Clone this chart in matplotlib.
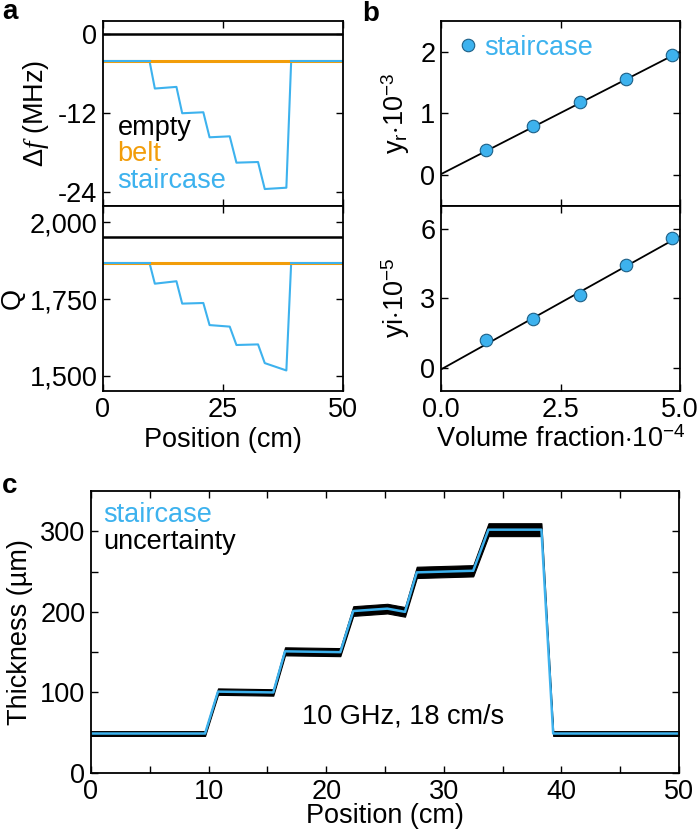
import matplotlib
matplotlib.use("Agg")
import matplotlib.pyplot as plt

plt.rcParams["font.family"] = ["Liberation Sans", "DejaVu Sans"]
plt.rcParams["font.size"] = 19.5
plt.rcParams["mathtext.fontset"] = "custom"
plt.rcParams["mathtext.rm"] = "Liberation Sans"
plt.rcParams["mathtext.it"] = "Liberation Serif:italic"
plt.rcParams["axes.linewidth"] = 1.3
plt.rcParams["axes.unicode_minus"] = False

BLUE = "#3DB2EE"
ORANGE = "#F29D0A"

# --- panel a: frequency shift and Q along the belt ---
pos_flat = [0, 50]
df_empty = [0.0, 0.0]
df_belt = [-4.1, -4.1]
q_empty = [1953, 1953]
q_belt = [1869, 1869]

pos_stair_a = [0, 9.7, 10.8, 15.3, 16.5, 20.9, 22.2, 26.4, 27.8, 32.3, 33.7, 38.2, 39.2, 50]
df_stair = [-4.1, -4.1, -8.25, -8.0, -12.0, -11.85, -15.65, -15.5, -19.5, -19.4, -23.5, -23.3, -4.1, -4.1]
q_stair = [1867, 1867, 1800, 1808, 1735, 1737, 1665, 1660, 1600, 1602, 1541, 1517, 1867, 1867]

# --- panel b: permittivity vs volume fraction ---
vol_frac = [0.95, 1.93, 2.90, 3.87, 4.84]
y_r = [0.40, 0.79, 1.18, 1.56, 1.95]
y_i = [1.20, 2.10, 3.15, 4.45, 5.60]
fit_x = [0.0, 5.0]
fit_yr = [0.01, 2.0]
fit_yi = [-0.07, 5.68]

# --- panel c: reconstructed thickness ---
pos_stair_c = [0, 9.7, 10.8, 15.5, 16.5, 21.2, 22.3, 25.2, 26.7, 27.7, 32.5, 33.8, 38.3, 39.3, 50]
thickness = [49, 49, 101, 100, 151, 150, 201, 204, 200, 249, 251, 302, 302, 49, 49]
uncert = [3, 3, 4, 4, 5, 5, 6, 6, 6, 7, 7, 8, 8, 3, 3]

fig = plt.figure(figsize=(7.0, 8.39), dpi=100)
W, H = 700.0, 839.0


def axes_px(x0, y0, x1, y1):
    return fig.add_axes([x0 / W, 1 - y1 / H, (x1 - x0) / W, (y1 - y0) / H])


def style(ax):
    ax.tick_params(direction="in", length=5, width=1.0, top=True, right=True, pad=4)


# panel a top
ax1 = axes_px(103, 21, 343, 205.5)
ax1.plot(pos_flat, df_empty, color="black", lw=1.8)
ax1.plot(pos_stair_a, df_stair, color=BLUE, lw=1.5)
ax1.plot(pos_flat, df_belt, color=ORANGE, lw=2.2)
ax1.plot([0, 9.7], df_stair[:2], color=BLUE, lw=1.5)
ax1.plot([39.2, 50], df_stair[-2:], color=BLUE, lw=1.5)
ax1.set_xlim(0, 50)
ax1.set_ylim(-26, 2)
ax1.set_yticks([-24, -12, 0])
ax1.set_xticks([0, 25, 50])
ax1.set_xticklabels([])
ax1.set_ylabel(r"$\mathit{\Delta f}$ (MHz)", labelpad=5)
style(ax1)
ax1.text(0.06, 0.42, "empty", color="black", transform=ax1.transAxes, va="center")
ax1.text(0.06, 0.28, "belt", color=ORANGE, transform=ax1.transAxes, va="center")
ax1.text(0.06, 0.135, "staircase", color=BLUE, transform=ax1.transAxes, va="center")

# panel a bottom
ax2 = axes_px(103, 205.5, 343, 391)
ax2.plot(pos_flat, q_empty, color="black", lw=1.8)
ax2.plot(pos_stair_a, q_stair, color=BLUE, lw=1.5)
ax2.plot(pos_flat, q_belt, color=ORANGE, lw=2.2)
ax2.plot([0, 9.7], q_stair[:2], color=BLUE, lw=1.5)
ax2.plot([39.2, 50], q_stair[-2:], color=BLUE, lw=1.5)
ax2.set_xlim(0, 50)
ax2.set_ylim(1450, 2055)
ax2.set_yticks([1500, 1750, 2000])
ax2.set_yticklabels(["1,500", "1,750", "2,000"])
ax2.set_xticks([0, 25, 50])
ax2.set_xlabel("Position (cm)", labelpad=3)
ax2.set_ylabel("Q", labelpad=3)
style(ax2)

# panel b top
ax3 = axes_px(441, 21, 680, 205.5)
ax3.plot(fit_x, fit_yr, color="black", lw=1.3, zorder=2)
ax3.plot(vol_frac, y_r, "o", ms=9, mfc=BLUE, mec="#1d5f86", mew=0.8, zorder=3,
         label="staircase")
ax3.set_xlim(0, 5)
ax3.set_ylim(-0.5, 2.5)
ax3.set_yticks([0, 1, 2])
ax3.set_xticks([0, 2.5, 5])
ax3.set_xticklabels([])
ax3.set_ylabel(r"y$_\mathrm{r}$$\cdot$10$^{-3}$", labelpad=6)
style(ax3)
ax3.legend(loc="upper left", frameon=False, handletextpad=0.1, borderaxespad=0.2,
           handlelength=1.0, labelcolor=BLUE, borderpad=0.3)

# panel b bottom
ax4 = axes_px(441, 205.5, 680, 391)
ax4.plot(fit_x, fit_yi, color="black", lw=1.3, zorder=2)
ax4.plot(vol_frac, y_i, "o", ms=9, mfc=BLUE, mec="#1d5f86", mew=0.8, zorder=3)
ax4.set_xlim(0, 5)
ax4.set_ylim(-1, 7)
ax4.set_yticks([0, 3, 6])
ax4.set_xticks([0, 2.5, 5])
ax4.set_xticklabels(["0.0", "2.5", "5.0"])
ax4.set_xlabel(r"Volume fraction$\cdot$10$^{-4}$", labelpad=3)
ax4.set_ylabel(r"yi$\cdot$10$^{-5}$", labelpad=6)
style(ax4)

# panel c
ax5 = axes_px(91, 491, 679, 773)
lower = [t - u for t, u in zip(thickness, uncert)]
upper = [t + u for t, u in zip(thickness, uncert)]
ax5.fill_between(pos_stair_c, lower, upper, color="black", lw=0.8)
ax5.plot(pos_stair_c, thickness, color=BLUE, lw=1.8)
ax5.set_xlim(0, 50)
ax5.set_ylim(0, 350)
ax5.set_xticks(range(0, 51, 10))
ax5.set_xticks(range(5, 50, 10), minor=True)
ax5.set_yticks([0, 100, 200, 300])
ax5.set_yticks([50, 150, 250], minor=True)
ax5.set_xlabel("Position (cm)", labelpad=-1)
ax5.set_ylabel("Thickness (\u00b5m)", labelpad=5)
style(ax5)
ax5.tick_params(which="minor", direction="in", length=5, width=1.0, top=True, right=True)
ax5.text(0.02, 0.915, "staircase", color=BLUE, transform=ax5.transAxes, va="center")
ax5.text(0.02, 0.82, "uncertainty", color="black", transform=ax5.transAxes, va="center")
ax5.text(0.53, 0.2, "10 GHz, 18 cm/s", color="black", transform=ax5.transAxes,
         va="center", ha="center")

# panel letters
fig.text(2 / W, 1 - 12 / H, "a", fontsize=20, fontweight="bold", va="center")
fig.text(362 / W, 1 - 14 / H, "b", fontsize=20, fontweight="bold", va="center")
fig.text(2 / W, 1 - 486 / H, "c", fontsize=20, fontweight="bold", va="center")

fig.savefig("out.png", dpi=100)
